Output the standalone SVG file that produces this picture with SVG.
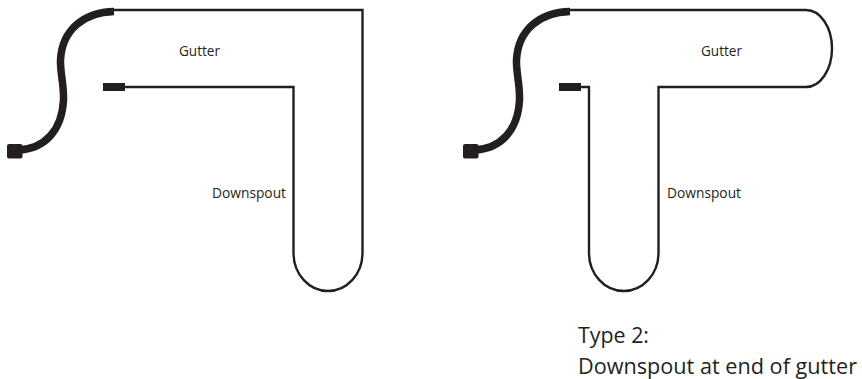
<svg xmlns="http://www.w3.org/2000/svg" width="862" height="379" viewBox="0 0 862 379">
<style>
text{font-family:"Open Sans","Noto Sans","Liberation Sans",sans-serif;fill:#231f20}
.s{font-size:14.500px}
.c{font-size:21.500px}
.o{fill:none;stroke:#231f20;stroke-width:2.4}
.h{fill:none;stroke:#231f20;stroke-width:7.5}
.b{fill:#231f20}
</style>
<defs>
<g id="hose">
<path class="h" d="M114 11.500C84 12 62 30 60.500 60C60 72 64 84 63.500 100C62 130 45 149 18 150"/>
<rect class="b" x="7" y="144" width="15.500" height="14.500" rx="2"/>
<rect class="b" x="103" y="83" width="22" height="8"/>
</g>
</defs>
<g id="connectors">
<path id="left-outline" class="o" d="M114 10H362.500V253A34.500 38 0 0 1 293.500 253V87H125"/>
<path id="right-outline" class="o" d="M570 10H806A26 38.500 0 0 1 806 87H658.500V253A34.750 38 0 0 1 589 253V87H581"/>
</g>
<g id="left-hose"><use href="#hose"/></g>
<g id="right-hose"><use href="#hose" x="456"/></g>
<g id="left-labels">
<text class="s" x="179" y="56" textLength="41" lengthAdjust="spacingAndGlyphs">Gutter</text>
<text class="s" x="212" y="198" textLength="74" lengthAdjust="spacingAndGlyphs">Downspout</text>
</g>
<g id="right-labels">
<text class="s" x="701" y="56" textLength="41" lengthAdjust="spacingAndGlyphs">Gutter</text>
<text class="s" x="667" y="198" textLength="74" lengthAdjust="spacingAndGlyphs">Downspout</text>
<text class="c" x="578" y="343" textLength="71" lengthAdjust="spacingAndGlyphs">Type 2:</text>
<text class="c" x="578" y="374" textLength="279" lengthAdjust="spacingAndGlyphs">Downspout at end of gutter</text>
</g>
</svg>
